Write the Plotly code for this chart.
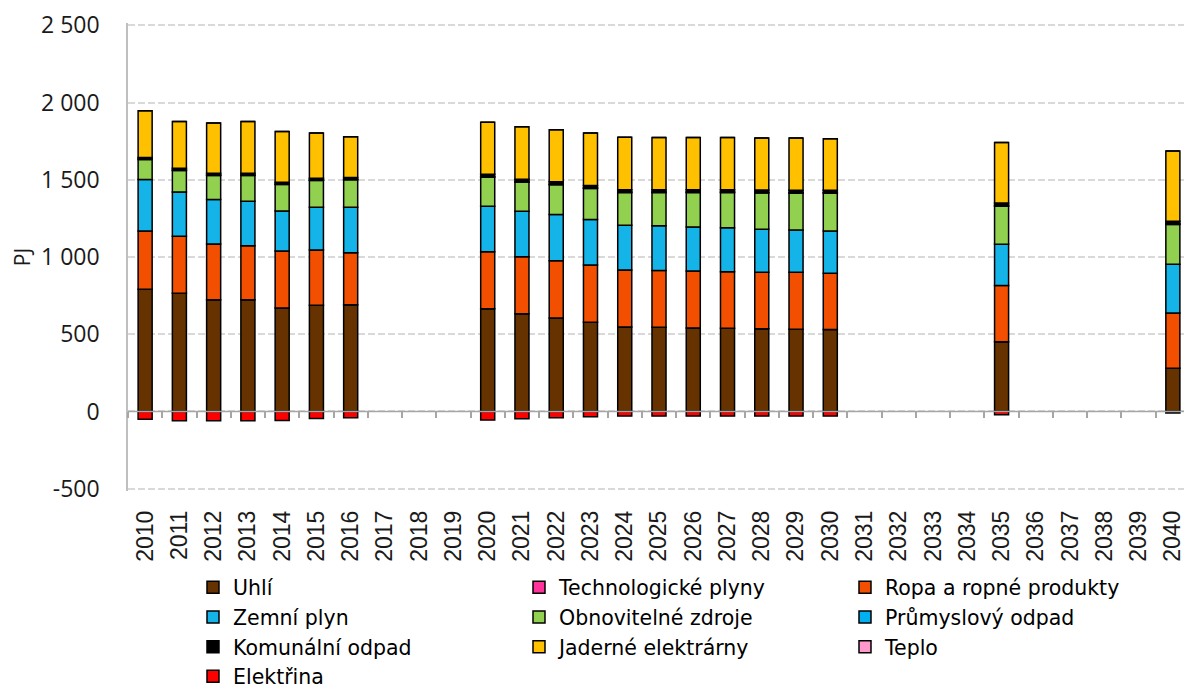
import numpy as np
import plotly.graph_objects as go

years = [str(y) for y in range(2010, 2041)]
data_years = ["2010", "2011", "2012", "2013", "2014", "2015", "2016",
              "2020", "2021", "2022", "2023", "2024", "2025", "2026", "2027",
              "2028", "2029", "2030", "2035", "2040"]

uhli = [792, 766, 723, 723, 670, 687, 691,
        665, 633, 605, 577, 547, 545, 541, 539, 536, 532, 530, 451, 279]
tech_plyny = [0] * 20
ropa = [376, 369, 361, 350, 369, 358, 337,
        369, 369, 371, 372, 369, 367, 369, 366, 365, 369, 365, 364, 358]
zemni_plyn = [334, 286, 288, 288, 259, 277, 294,
              295, 294, 299, 294, 290, 290, 285, 284, 279, 273, 273, 267, 316]
obnovitelne = [129, 139, 156, 167, 172, 174, 178,
               188, 189, 193, 201, 211, 215, 222, 228, 235, 239, 245, 247, 258]
prumyslovy = [3, 3, 3, 3, 3, 3, 3,
              4, 4, 4, 4, 4, 4, 4, 4, 4, 4, 4, 5, 5]
komunalni = [11, 11, 11, 11, 11, 11, 11,
             14, 15, 15, 15, 15, 15, 15, 15, 15, 15, 15, 16, 16]
jaderne = [302, 304, 326, 336, 329, 293, 265,
           337, 340, 337, 340, 340, 338, 338, 338, 336, 338, 334, 392, 455]
teplo = [0] * 20
elektrina = [-50, -60, -60, -60, -58, -45, -40,
             -56, -48, -41, -35, -30, -30, -30, -30, -30, -30, -30, -22, -10]

ytick_vals = [-500, 0, 500, 1000, 1500, 2000, 2500]
ytick_text = ["-500", "0", "500", "1 000", "1 500", "2 000", "2 500"]

series = [
    ("Uhlí", uhli, "#663300"),
    ("Technologické plyny", tech_plyny, "#FF3399"),
    ("Ropa a ropné produkty", ropa, "#F25000"),
    ("Zemní plyn", zemni_plyn, "#14B4E8"),
    ("Obnovitelné zdroje", obnovitelne, "#92D050"),
    ("Průmyslový odpad", prumyslovy, "#00B0F0"),
    ("Komunální odpad", komunalni, "#000000"),
    ("Jaderné elektrárny", jaderne, "#FFC000"),
    ("Teplo", teplo, "#FF99CC"),
    ("Elektřina", elektrina, "#FF0000"),
]

FONT = "Open Sans"
LEGEND_FONT = "DejaVu Sans"
YMIN, YMAX = -515, 2515

fig = go.Figure()
for name, vals, color in series:
    fig.add_trace(go.Bar(
        x=data_years, y=vals, name=name,
        marker=dict(color=color, line=dict(color="#000000", width=1.5)),
    ))

# axis line at zero with boundary ticks
n = len(years)
bounds = list(np.arange(n + 1) - 0.5)
fig.add_trace(go.Scatter(x=[bounds[0], bounds[-1]], y=[0, 0], xaxis="x2",
                         mode="lines", line=dict(color="#A6A6A6", width=1.5),
                         showlegend=False, hoverinfo="skip"))

fig.update_layout(
    width=1184, height=684,
    barmode="relative", bargap=0.59,
    plot_bgcolor="white", paper_bgcolor="white",
    margin=dict(l=120, r=2, t=15, b=201, autoexpand=False),
    font=dict(family=FONT, size=21, color="#1a1a1a"),
    xaxis=dict(type="category", categoryorder="array", categoryarray=years,
               tickvals=years, range=[-0.5, n - 0.5], tickangle=-90,
               showgrid=False, showline=False, ticks="", automargin=False,
               ticklabelstandoff=14,
               tickfont=dict(family="Liberation Sans", size=23, color="#1a1a1a")),
    xaxis2=dict(overlaying="x", anchor="free", position=(0 - YMIN) / (YMAX - YMIN),
                range=[-0.5, n - 0.5], tickvals=bounds, ticks="outside",
                ticklen=6, tickcolor="#A6A6A6", tickwidth=1.5,
                showticklabels=False, showgrid=False, showline=False,
                side="bottom", zeroline=False, automargin=False),
    yaxis=dict(range=[YMIN, YMAX], tickvals=ytick_vals, ticktext=ytick_text,
               showgrid=True, gridcolor="#D9D9D9", griddash="7px,3px", gridwidth=1.5,
               zeroline=False, showline=True, linecolor="#BFBFBF", linewidth=1.5,
               ticks="", ticklabelstandoff=22, automargin=False,
               tickfont=dict(family=FONT, size=23, color="#1a1a1a"),
               title=dict(text="PJ", standoff=10, font=dict(family=FONT, size=21))),
    legend=dict(orientation="h", x=0.0612, xanchor="left",
                yref="container", y=0.182, yanchor="top",
                traceorder="normal", entrywidth=281,
                font=dict(family=LEGEND_FONT, size=20.5, color="#000000"),
                itemwidth=30, tracegroupgap=0),
    showlegend=True,
)

fig.write_html("out.html")
